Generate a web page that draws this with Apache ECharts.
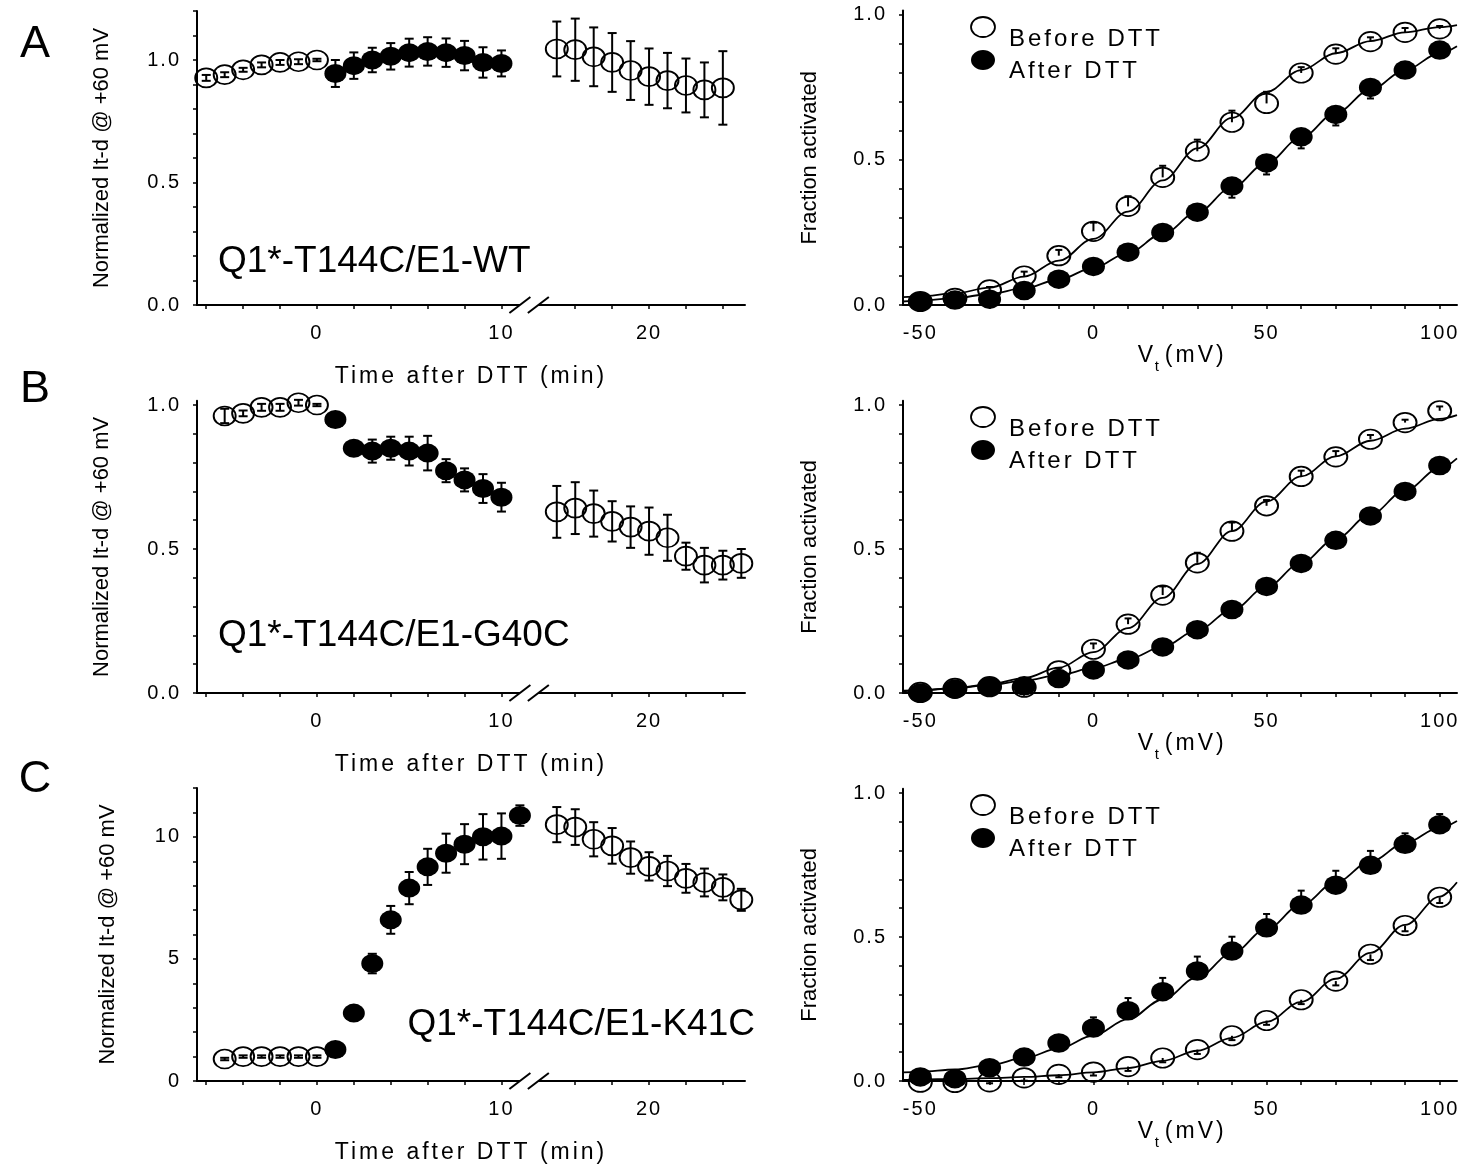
<!DOCTYPE html>
<html>
<head>
<meta charset="utf-8">
<title>DTT time course and activation curves</title>
<script src="https://cdn.jsdelivr.net/npm/echarts@6.0.0/dist/echarts.min.js"></script>
<style>
html, body { margin: 0; padding: 0; background: #fff; }
#main { width: 1463px; height: 1165px; }
</style>
</head>
<body>
<div id="main"></div>
<script>
// ---- time course panels (minutes after DTT) ----
var aPreT = [-6, -5, -4, -3, -2, -1, 0];
var aPreY = [0.927, 0.94, 0.96, 0.98, 0.99, 0.993, 1.0];
var aPreErr = [0.012, 0.01, 0.008, 0.01, 0.01, 0.01, 0.005];
var aDttT = [1, 2, 3, 4, 5, 6, 7, 8, 9, 10];
var aDttY = [0.945, 0.977, 1.0, 1.015, 1.03, 1.035, 1.03, 1.018, 0.99, 0.986];
var aDttErr = [0.055, 0.054, 0.05, 0.054, 0.057, 0.058, 0.058, 0.06, 0.062, 0.053];
var aWashT = [15, 16, 17, 18, 19, 20, 21, 22, 23, 24];
var aWashY = [1.045, 1.042, 1.013, 0.99, 0.957, 0.932, 0.916, 0.896, 0.878, 0.886];
var aWashErr = [0.112, 0.127, 0.12, 0.12, 0.12, 0.115, 0.113, 0.11, 0.112, 0.15];

var bPreT = [-5, -4, -3, -2, -1, 0];
var bPreY = [0.962, 0.971, 0.992, 0.992, 1.008, 1.0];
var bPreErr = [0.025, 0.01, 0.012, 0.012, 0.01, 0.004];
var bDttT = [1, 2, 3, 4, 5, 6, 7, 8, 9, 10];
var bDttY = [0.95, 0.85, 0.84, 0.85, 0.84, 0.833, 0.772, 0.74, 0.71, 0.68];
var bDttErr = [0, 0.01, 0.04, 0.04, 0.05, 0.06, 0.04, 0.04, 0.05, 0.05];
var bWashT = [15, 16, 17, 18, 19, 20, 21, 22, 23, 24, 25];
var bWashY = [0.629, 0.642, 0.623, 0.596, 0.576, 0.562, 0.539, 0.475, 0.444, 0.444, 0.45];
var bWashErr = [0.09, 0.09, 0.08, 0.07, 0.072, 0.082, 0.08, 0.047, 0.06, 0.05, 0.05];

var cPreT = [-5, -4, -3, -2, -1, 0];
var cPreY = [0.9, 1.0, 1.0, 1.0, 1.0, 1.0];
var cPreErr = [0.05, 0.05, 0.05, 0.05, 0.05, 0.05];
var cDttT = [1, 2, 3, 4, 5, 6, 7, 8, 9, 10, 11];
var cDttY = [1.29, 2.78, 4.81, 6.6, 7.9, 8.77, 9.33, 9.7, 10.0, 10.03, 10.87];
var cDttErr = [0.05, 0.1, 0.4, 0.57, 0.66, 0.74, 0.8, 0.82, 0.93, 0.93, 0.42];
var cWashT = [15, 16, 17, 18, 19, 20, 21, 22, 23, 24, 25];
var cWashY = [10.5, 10.4, 9.9, 9.63, 9.15, 8.79, 8.6, 8.3, 8.13, 7.93, 7.42];
var cWashErr = [0.72, 0.73, 0.7, 0.73, 0.66, 0.58, 0.62, 0.59, 0.57, 0.53, 0.45];

// ---- activation panels ----
var volts = [-50, -40, -30, -20, -10, 0, 10, 20, 30, 40, 50, 60, 70, 80, 90, 100];
var aBefore = [0.012, 0.023, 0.052, 0.10, 0.17, 0.254, 0.34, 0.44, 0.53, 0.63, 0.695, 0.80, 0.865, 0.908, 0.94, 0.952];
var aBeforeErr = [0.005, 0.008, 0.01, 0.015, 0.02, 0.03, 0.035, 0.04, 0.04, 0.04, 0.04, 0.02, 0.02, 0.015, 0.015, 0.01];
var aAfter = [0.012, 0.017, 0.02, 0.05, 0.089, 0.133, 0.182, 0.25, 0.32, 0.41, 0.49, 0.58, 0.657, 0.75, 0.81, 0.879];
var aAfterErr = [0.005, 0.005, 0.005, 0.005, 0.01, 0.01, 0.01, 0.01, 0.02, 0.04, 0.04, 0.04, 0.038, 0.038, 0.015, 0.015];
var bBefore = [0.002, 0.016, 0.022, 0.02, 0.077, 0.152, 0.239, 0.34, 0.452, 0.562, 0.65, 0.752, 0.82, 0.881, 0.939, 0.98];
var bBeforeErr = [0.005, 0.005, 0.005, 0.005, 0.01, 0.02, 0.02, 0.03, 0.035, 0.03, 0.02, 0.02, 0.02, 0.015, 0.01, 0.015];
var bAfter = [0.0, 0.014, 0.022, 0.025, 0.05, 0.08, 0.115, 0.16, 0.22, 0.29, 0.37, 0.45, 0.53, 0.615, 0.70, 0.79];
var bAfterErr = [0.005, 0.005, 0.005, 0.005, 0.005, 0.005, 0.005, 0.005, 0.005, 0.005, 0.005, 0.005, 0.005, 0.005, 0.005, 0.005];
var cBefore = [-0.004, -0.005, -0.003, 0.011, 0.023, 0.031, 0.05, 0.08, 0.109, 0.157, 0.21, 0.282, 0.347, 0.44, 0.54, 0.638];
var cBeforeErr = [0.005, 0.005, 0.005, 0.01, 0.01, 0.012, 0.015, 0.015, 0.015, 0.015, 0.015, 0.015, 0.015, 0.02, 0.02, 0.02];
var cAfter = [0.014, 0.008, 0.046, 0.083, 0.132, 0.184, 0.244, 0.31, 0.382, 0.451, 0.532, 0.611, 0.68, 0.749, 0.822, 0.89];
var cAfterErr = [0.005, 0.005, 0.01, 0.01, 0.01, 0.037, 0.044, 0.048, 0.05, 0.05, 0.048, 0.05, 0.05, 0.05, 0.038, 0.037];

// Boltzmann fit lines
var fitV = [-55, -50, -40, -30, -20, -10, 0, 10, 20, 30, 40, 50, 60, 70, 80, 90, 100, 105];
var aBeforeFit = [0.027, 0.03, 0.04, 0.06, 0.098, 0.153, 0.228, 0.322, 0.43, 0.54, 0.645, 0.735, 0.81, 0.868, 0.91, 0.94, 0.958, 0.965];
var aAfterFit = [0.012, 0.015, 0.024, 0.038, 0.058, 0.088, 0.128, 0.18, 0.245, 0.32, 0.405, 0.49, 0.578, 0.662, 0.742, 0.81, 0.868, 0.892];
var bBeforeFit = [0.006, 0.009, 0.017, 0.03, 0.052, 0.088, 0.142, 0.225, 0.33, 0.448, 0.562, 0.665, 0.752, 0.822, 0.876, 0.918, 0.952, 0.965];
var bAfterFit = [0.008, 0.01, 0.017, 0.028, 0.043, 0.062, 0.087, 0.118, 0.16, 0.218, 0.288, 0.368, 0.452, 0.536, 0.62, 0.703, 0.78, 0.815];
var cBeforeFit = [0.004, 0.005, 0.007, 0.01, 0.014, 0.02, 0.03, 0.045, 0.07, 0.105, 0.15, 0.205, 0.275, 0.355, 0.445, 0.542, 0.64, 0.69];
var cAfterFit = [0.03, 0.032, 0.04, 0.055, 0.08, 0.113, 0.158, 0.215, 0.283, 0.36, 0.443, 0.528, 0.612, 0.69, 0.762, 0.826, 0.88, 0.903];

// ticks and labels
var timeTicks = [-6, -4, -2, 0, 2, 4, 6, 8, 10, 16, 18, 20, 22, 24];
var timeLabels = [0, 10, 20];
var voltTicks = [-50, -40, -30, -20, -10, 0, 10, 20, 30, 40, 50, 60, 70, 80, 90, 100];
var voltLabels = [-50, 0, 50, 100];
var fracTicks = [0, 0.1, 0.2, 0.3, 0.4, 0.5, 0.6, 0.7, 0.8, 0.9, 1.0];
var fracTicksTall = [0, 0.1, 0.2, 0.3, 0.4, 0.5, 0.6, 0.7, 0.8, 0.9, 1.0, 1.1, 1.2];
var fracLabels = [0, 0.5, 1.0];
var foldTicks = [0, 1, 2, 3, 4, 5, 6, 7, 8, 9, 10, 11, 12];
var foldLabels = [0, 5, 10];

// time axis is broken between 10 and 16 min: 2 minutes are cut out
var breakGap = 2;
function tPos(t) { return t > 12 ? t - breakGap : t; }

// SigmaPlot-style letter spacing: a font family named "spacedN" gets N px tracking
var fillTextOrig = CanvasRenderingContext2D.prototype.fillText;
CanvasRenderingContext2D.prototype.fillText = function (text, x, y) {
    var m = /spaced(\d+)/.exec(this.font);
    if (m && 'letterSpacing' in this) {
        this.letterSpacing = m[1] + 'px';
        fillTextOrig.apply(this, arguments);
        this.letterSpacing = '0px';
        return;
    }
    return fillTextOrig.apply(this, arguments);
};

var FONT = 'Liberation Sans, Arial, sans-serif';
var TICKFONT = 'spaced2, Liberation Sans, Arial, sans-serif';
var TITLEFONT = 'spaced3, Liberation Sans, Arial, sans-serif';
var ELLIPSE = 'path://M0,50A50,50,0,1,1,100,50A50,50,0,1,1,0,50Z';

var grids = [
    {left: 197, top: 11, width: 548, height: 294},
    {left: 903, top: 10.6, width: 554, height: 294.4},
    {left: 197, top: 400.7, width: 548, height: 292.3},
    {left: 903, top: 400.7, width: 554, height: 292.3},
    {left: 197, top: 788, width: 548, height: 293},
    {left: 903, top: 788.7, width: 554, height: 292.3}
];

var axisLine = {show: true, onZero: false, lineStyle: {color: '#000', width: 2}};

function timeX(gi) {
    return {
        type: 'value', gridIndex: gi, min: -6.5, max: 23.2,
        axisLine: axisLine,
        axisTick: {show: true, customValues: timeTicks.map(tPos), length: 4, lineStyle: {color: '#000', width: 1.5}},
        axisLabel: {
            customValues: timeLabels.map(tPos), margin: 18, color: '#000', fontSize: 20, fontFamily: TICKFONT,
            formatter: function (v) { return String(v > 11 ? v + breakGap : v); }
        },
        splitLine: {show: false},
        name: 'Time after DTT (min)', nameLocation: 'middle', nameGap: 60,
        nameTextStyle: {color: '#000', fontSize: 23, fontFamily: TITLEFONT}
    };
}

function voltX(gi) {
    return {
        type: 'value', gridIndex: gi, min: -55, max: 105,
        axisLine: axisLine,
        axisTick: {show: true, customValues: voltTicks, length: 4, lineStyle: {color: '#000', width: 1.5}},
        axisLabel: {customValues: voltLabels, margin: 18, color: '#000', fontSize: 20, fontFamily: TICKFONT},
        splitLine: {show: false},
        name: '{v|V}{s|t}{g|}{v|(mV)}', nameLocation: 'middle', nameGap: 35,
        nameTextStyle: {
            color: '#000', fontSize: 23, fontFamily: TITLEFONT,
            rich: {
                v: {color: '#000', fontSize: 23, fontFamily: TITLEFONT, lineHeight: 30, verticalAlign: 'top'},
                s: {color: '#000', fontSize: 15, fontFamily: FONT, lineHeight: 30, verticalAlign: 'bottom'},
                g: {width: 12, lineHeight: 30}
            }
        }
    };
}

function valY(gi, max, ticks, labels, decimals, name, gap) {
    return {
        type: 'value', gridIndex: gi, min: 0, max: max,
        axisLine: axisLine,
        axisTick: {show: true, customValues: ticks, length: 4, lineStyle: {color: '#000', width: 1.5}},
        axisLabel: {
            customValues: labels, margin: 16, color: '#000', fontSize: 20, fontFamily: TICKFONT,
            formatter: function (v) { return v.toFixed(decimals); }
        },
        splitLine: {show: false},
        name: name, nameLocation: 'middle', nameGap: gap,
        nameTextStyle: {color: '#000', fontSize: 22, fontFamily: FONT}
    };
}

var yName = 'Normalized It-d @ +60 mV';
var fName = 'Fraction activated';

// error bars: mode 'both' draws symmetric bars, 'up' / 'down' one side only
function errorBars(gi, xs, ys, errs, mode, capW) {
    return {
        type: 'custom', xAxisIndex: gi, yAxisIndex: gi, z: 2, silent: true,
        data: xs.map(function (x, i) { return [x, ys[i], errs[i]]; }),
        renderItem: function (params, api) {
            var x = api.value(0), y = api.value(1), e = api.value(2);
            var hi = api.coord([x, mode === 'down' ? y : y + e]);
            var lo = api.coord([x, mode === 'up' ? y : y - e]);
            var st = {stroke: '#000', lineWidth: 2};
            var kids = [{type: 'line', shape: {x1: hi[0], y1: hi[1], x2: lo[0], y2: lo[1]}, style: st}];
            if (mode !== 'down') kids.push({type: 'line', shape: {x1: hi[0] - capW, y1: hi[1], x2: hi[0] + capW, y2: hi[1]}, style: st});
            if (mode !== 'up') kids.push({type: 'line', shape: {x1: lo[0] - capW, y1: lo[1], x2: lo[0] + capW, y2: lo[1]}, style: st});
            return {type: 'group', children: kids};
        }
    };
}

function dots(gi, name, xs, ys, filled, size) {
    return {
        type: 'scatter', name: name, xAxisIndex: gi, yAxisIndex: gi, silent: true, clip: false,
        symbol: ELLIPSE, symbolSize: size, z: filled ? 4 : 3,
        itemStyle: filled ? {color: '#000', opacity: 1} : {color: 'rgba(255,255,255,0)', borderColor: '#000', borderWidth: 1.8, opacity: 1},
        data: xs.map(function (x, i) { return [x, ys[i]]; })
    };
}

function fitLine(gi, ys) {
    return {
        type: 'line', xAxisIndex: gi, yAxisIndex: gi, silent: true, symbol: 'none', z: 1,
        smooth: 0.35, smoothMonotone: 'x',
        lineStyle: {color: '#000', width: 1.8},
        data: fitV.map(function (v, i) { return [v, ys[i]]; })
    };
}

// the "//" marks on the broken time axis, drawn at display minutes 11 and 12
function breakMark(gi) {
    return {
        type: 'custom', xAxisIndex: gi, yAxisIndex: gi, z: 6, silent: true,
        data: [[11, 12]],
        renderItem: function (params, api) {
            var a = api.coord([api.value(0), 0]), b = api.coord([api.value(1), 0]);
            var y = a[1], dx = 10.5, dy = 8;
            return {
                type: 'group', children: [
                    {type: 'polygon', shape: {points: [[a[0] - 4, y + 3], [b[0] - 4, y + 3], [b[0] + 4, y - 3], [a[0] + 4, y - 3]]}, style: {fill: '#fff'}},
                    {type: 'line', shape: {x1: a[0] - dx, y1: y + dy, x2: a[0] + dx, y2: y - dy}, style: {stroke: '#000', lineWidth: 2}},
                    {type: 'line', shape: {x1: b[0] - dx, y1: y + dy, x2: b[0] + dx, y2: y - dy}, style: {stroke: '#000', lineWidth: 2}}
                ]
            };
        }
    };
}

var timePanels = [
    {gi: 0, pre: [aPreT, aPreY, aPreErr], dtt: [aDttT, aDttY, aDttErr], wash: [aWashT, aWashY, aWashErr]},
    {gi: 2, pre: [bPreT, bPreY, bPreErr], dtt: [bDttT, bDttY, bDttErr], wash: [bWashT, bWashY, bWashErr]},
    {gi: 4, pre: [cPreT, cPreY, cPreErr], dtt: [cDttT, cDttY, cDttErr], wash: [cWashT, cWashY, cWashErr]}
];
var voltPanels = [
    {gi: 1, before: [aBefore, aBeforeErr, aBeforeFit, 'up'], after: [aAfter, aAfterErr, aAfterFit, 'down']},
    {gi: 3, before: [bBefore, bBeforeErr, bBeforeFit, 'up'], after: [bAfter, bAfterErr, bAfterFit, 'down']},
    {gi: 5, before: [cBefore, cBeforeErr, cBeforeFit, 'down'], after: [cAfter, cAfterErr, cAfterFit, 'up']}
];

var series = [];
timePanels.forEach(function (p) {
    ['pre', 'dtt', 'wash'].forEach(function (k) {
        var xs = p[k][0].map(tPos);
        series.push(errorBars(p.gi, xs, p[k][1], p[k][2], 'both', 4.5));
        series.push(dots(p.gi, k, xs, p[k][1], k === 'dtt', [22, 19]));
    });
    series.push(breakMark(p.gi));
});
voltPanels.forEach(function (p) {
    series.push(fitLine(p.gi, p.before[2]));
    series.push(fitLine(p.gi, p.after[2]));
    series.push(errorBars(p.gi, volts, p.before[0], p.before[1], p.before[3], 3.5));
    series.push(errorBars(p.gi, volts, p.after[0], p.after[1], p.after[3], 3.5));
    series.push(dots(p.gi, 'Before DTT', volts, p.before[0], false, [23, 19.5]));
    series.push(dots(p.gi, 'After DTT', volts, p.after[0], true, [23, 19.5]));
});

// panel letters, construct labels and legends
var graphic = [];
var letters = ['A', 'B', 'C'];
var constructs = ['Q1*-T144C/E1-WT', 'Q1*-T144C/E1-G40C', 'Q1*-T144C/E1-K41C'];
var letterY = [45, 390, 780];
var constructPos = [[218, 262, 'left'], [218, 636, 'left'], [755, 1025, 'right']];
letters.forEach(function (l, i) {
    graphic.push({type: 'text', x: 35, y: letterY[i], silent: true,
        style: {text: l, fontSize: 45, fontFamily: FONT, fill: '#000', align: 'center', verticalAlign: 'middle'}});
    graphic.push({type: 'text', x: constructPos[i][0], y: constructPos[i][1], silent: true,
        style: {text: constructs[i], fontSize: 37, fontFamily: FONT, fill: '#000', align: constructPos[i][2], verticalAlign: 'middle'}});
});
var legendTops = [15, 405, 793];
legendTops.forEach(function (y0) {
    graphic.push({type: 'ellipse', silent: true, shape: {cx: 983, cy: y0 + 12, rx: 12, ry: 10},
        style: {fill: 'none', stroke: '#000', lineWidth: 1.8}});
    graphic.push({type: 'ellipse', silent: true, shape: {cx: 983, cy: y0 + 45, rx: 12, ry: 10},
        style: {fill: '#000'}});
    graphic.push({type: 'text', x: 1009, y: y0 + 24, silent: true,
        style: {text: 'Before DTT', fontSize: 24, fontFamily: TITLEFONT, fill: '#000', align: 'left', verticalAlign: 'middle'}});
    graphic.push({type: 'text', x: 1009, y: y0 + 56, silent: true,
        style: {text: 'After DTT', fontSize: 24, fontFamily: TITLEFONT, fill: '#000', align: 'left', verticalAlign: 'middle'}});
});

var myChart = echarts.init(document.getElementById('main'));
var option = {
    animation: false,
    backgroundColor: '#fff',
    grid: grids,
    xAxis: [timeX(0), voltX(1), timeX(2), voltX(3), timeX(4), voltX(5)],
    yAxis: [
        valY(0, 1.2, fracTicksTall, fracLabels, 1, yName, 84),
        valY(1, 1.015, fracTicks, fracLabels, 1, fName, 82),
        valY(2, 1.015, fracTicks, fracLabels, 1, yName, 84),
        valY(3, 1.015, fracTicks, fracLabels, 1, fName, 82),
        valY(4, 12, foldTicks, foldLabels, 0, yName, 78),
        valY(5, 1.015, fracTicks, fracLabels, 1, fName, 82)
    ],
    series: series,
    graphic: graphic
};
myChart.setOption(option);
</script>
</body>
</html>
